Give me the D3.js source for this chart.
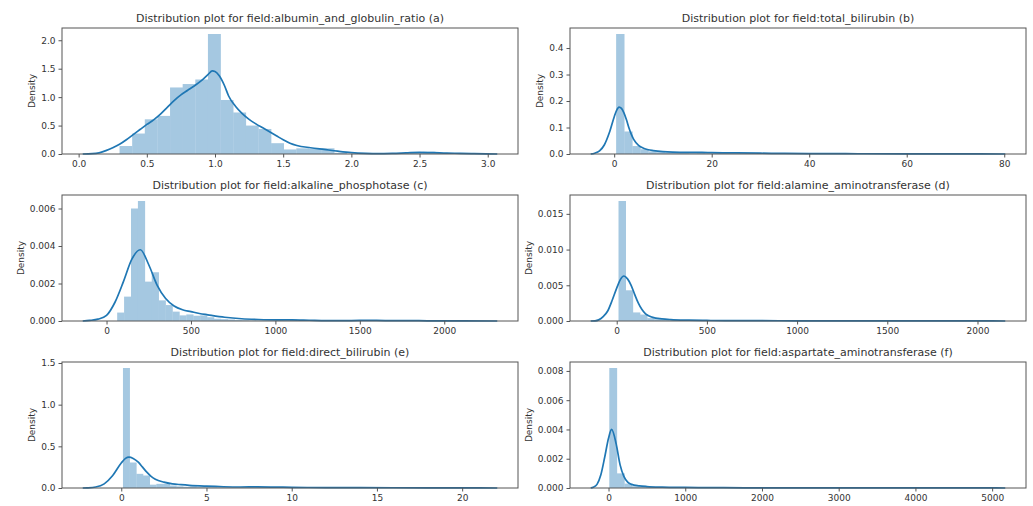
<!DOCTYPE html>
<html>
<head>
<meta charset="utf-8">
<script src="https://cdn.jsdelivr.net/npm/d3@7"></script>
<style>
  body { margin: 0; background: #fff; }
  svg text { font-family: "DejaVu Sans", sans-serif; fill: #333; }
</style>
</head>
<body>
<div id="chart"></div>
<script>
// ---- data ----
// (a) albumin_and_globulin_ratio
const albBins = [0.3, 2.5 / 27]; // first edge, bin width
const albHist = [0.14, 0.36, 0.61, 0.67, 1.17, 1.23, 1.31, 2.11, 0.95, 0.73, 0.5, 0.44, 0.19, 0.08,
  0.1, 0.09, 0.1, 0.02, 0, 0.02, 0.01, 0, 0.01, 0.02, 0.04, 0.02, 0.01];
const albKde = [[0.03, 0], [0.1, 0.005], [0.15, 0.02], [0.2, 0.06], [0.25, 0.11], [0.3, 0.17], [0.35, 0.25],
  [0.4, 0.34], [0.45, 0.43], [0.5, 0.52], [0.55, 0.6], [0.6, 0.7], [0.65, 0.82], [0.7, 0.94], [0.75, 1.04],
  [0.8, 1.12], [0.85, 1.2], [0.9, 1.29], [0.95, 1.4], [0.98, 1.46], [1.0, 1.45], [1.03, 1.38], [1.07, 1.2],
  [1.1, 1.02], [1.15, 0.84], [1.2, 0.71], [1.25, 0.61], [1.3, 0.53], [1.35, 0.46], [1.4, 0.39], [1.45, 0.32],
  [1.5, 0.25], [1.55, 0.19], [1.6, 0.15], [1.7, 0.11], [1.8, 0.08], [1.9, 0.05], [2.0, 0.025], [2.1, 0.012],
  [2.2, 0.008], [2.3, 0.01], [2.4, 0.02], [2.5, 0.03], [2.6, 0.025], [2.7, 0.016], [2.8, 0.012], [2.9, 0.006],
  [3.07, 0]];
const albXTicks = [0, 0.5, 1, 1.5, 2, 2.5, 3];
const albYTicks = [0, 0.5, 1, 1.5, 2];

// (b) total_bilirubin
const tbBins = [0.4, 74.6 / 45];
const tbHist = [0.453, 0.085, 0.03, 0.018, 0.01, 0.007, 0.005, 0.006, 0.004, 0.003, 0.004, 0.002, 0.003,
  0.002, 0.001, 0.001, 0.002, 0.001, 0, 0.001, 0.0005, 0, 0.0005, 0, 0, 0, 0, 0, 0.0005, 0, 0, 0, 0, 0, 0,
  0, 0, 0, 0, 0, 0, 0, 0, 0, 0.0005];
const tbKde = [[-4.81, 0], [-4, 0.003], [-3, 0.012], [-2, 0.035], [-1, 0.08], [0, 0.14], [0.5, 0.165],
  [1, 0.177], [1.5, 0.172], [2, 0.155], [2.5, 0.13], [3, 0.1], [3.5, 0.075], [4, 0.055], [5, 0.033],
  [6, 0.022], [7, 0.016], [8, 0.013], [10, 0.009], [12, 0.007], [15, 0.006], [18, 0.006], [20, 0.005],
  [25, 0.004], [30, 0.003], [35, 0.002], [40, 0.0015], [45, 0.0012], [50, 0.001], [60, 0.0006], [70, 0.0005],
  [75, 0.0005], [80.21, 0]];
const tbXTicks = [0, 20, 40, 60, 80];
const tbYTicks = [0, 0.1, 0.2, 0.3, 0.4];

// (c) alkaline_phosphotase
const alpBins = [63, 2047 / 50];
const alpHist = [0.00045, 0.0013, 0.006, 0.0064, 0.0021, 0.0026, 0.0011, 0.00085, 0.0005, 0.0003, 0.00035,
  0.00028, 0.0003, 0.0002, 0.00012, 0.0001, 0.00008, 0.00005, 0.00004, 0.00003, 0.00002, 0.00002, 0.00001,
  0.00003, 0.00002, 0.00007, 0, 0.00001, 0, 0, 0, 0.00001, 0, 0, 0.00002, 0.00001, 0, 0, 0, 0, 0, 0.00001,
  0, 0, 0, 0, 0, 0, 0, 0.00001];
const alpKde = [[-141, 0], [-100, 0.00003], [-50, 0.0001], [0, 0.0003], [50, 0.001], [100, 0.0021],
  [150, 0.0033], [200, 0.0038], [250, 0.003], [300, 0.0019], [350, 0.0012], [400, 0.0008], [450, 0.0006],
  [500, 0.0005], [550, 0.0004], [600, 0.00033], [700, 0.0002], [800, 0.00012], [900, 0.00008],
  [1000, 0.00006], [1100, 0.00006], [1200, 0.00004], [1300, 0.00002], [1400, 0.00002], [1500, 0.00003],
  [1600, 0.00003], [1700, 0.00002], [1800, 0.00002], [1900, 0.00001], [2000, 0.00001], [2110, 0.00001],
  [2314, 0]];
const alpXTicks = [0, 500, 1000, 1500, 2000];
const alpYTicks = [0, 0.002, 0.004, 0.006];

// (d) alamine_aminotransferase
const altBins = [10, 1990 / 50];
const altHist = [0.0168, 0.0043, 0.0012, 0.0009, 0.0004, 0.00025, 0.0002, 0.00012, 0.0001, 0.00006, 0.00005,
  0.00004, 0.00003, 0.00002, 0.00002, 0.00001, 0, 0.00001, 0.00001, 0, 0, 0.00001, 0, 0, 0, 0, 0, 0, 0, 0,
  0, 0, 0, 0, 0, 0, 0, 0, 0, 0, 0, 0, 0, 0, 0, 0, 0, 0, 0, 0.00001];
const altKde = [[-144, 0], [-120, 0.00003], [-100, 0.00016], [-75, 0.0006], [-50, 0.0014], [-25, 0.0029],
  [0, 0.0046], [20, 0.0058], [40, 0.0063], [60, 0.0059], [80, 0.005], [100, 0.0037], [120, 0.0025],
  [140, 0.0016], [160, 0.001], [180, 0.0007], [200, 0.0005], [250, 0.0003], [300, 0.0002], [400, 0.00012],
  [500, 0.00008], [600, 0.00005], [800, 0.00004], [1000, 0.00003], [1200, 0.00002], [1500, 0.00002],
  [1800, 0.00001], [2000, 0.00001], [2154, 0]];
const altXTicks = [0, 500, 1000, 1500, 2000];
const altYTicks = [0, 0.005, 0.01, 0.015];

// (e) direct_bilirubin
const dbBins = [0.1, 19.6 / 50];
const dbHist = [1.44, 0.306, 0.17, 0.15, 0.04, 0.05, 0.05, 0.03, 0.02, 0.015, 0.02, 0.01, 0.01, 0.008, 0.005,
  0.005, 0.004, 0.005, 0.003, 0.003, 0.005, 0.008, 0.005, 0.003, 0.002, 0.002, 0.001, 0.002, 0.001, 0.001,
  0.001, 0.001, 0, 0.001, 0.001, 0, 0.001, 0, 0, 0.001, 0, 0.001, 0, 0, 0, 0, 0, 0, 0, 0.001];
const dbKde = [[-2.26, 0], [-2, 0.002], [-1.5, 0.012], [-1, 0.05], [-0.5, 0.15], [0, 0.3], [0.25, 0.355],
  [0.45, 0.37], [0.7, 0.355], [1, 0.31], [1.25, 0.25], [1.5, 0.19], [1.75, 0.14], [2, 0.105], [2.5, 0.07],
  [3, 0.05], [3.5, 0.04], [4, 0.032], [5, 0.022], [6, 0.015], [7, 0.012], [8, 0.013], [9, 0.011], [10, 0.008],
  [11, 0.006], [12, 0.005], [14, 0.004], [16, 0.003], [18, 0.002], [20, 0.001], [22.06, 0]];
const dbXTicks = [0, 5, 10, 15, 20];
const dbYTicks = [0, 0.5, 1, 1.5];

// (f) aspartate_aminotransferase
const astBins = [10, 4919 / 50];
const astHist = [0.0082, 0.001, 0.0003, 0.00012, 0.00007, 0.00005, 0.00003, 0.00003, 0.00002, 0.00001,
  0.00002, 0.00001, 0.00001, 0, 0.00001, 0, 0, 0, 0, 0, 0, 0, 0, 0, 0, 0, 0, 0, 0, 0, 0, 0, 0, 0, 0, 0, 0,
  0, 0, 0, 0, 0, 0, 0, 0, 0, 0, 0, 0, 0.00001];
const astKde = [[-232, 0], [-200, 0.00005], [-150, 0.00025], [-100, 0.0009], [-50, 0.0021], [0, 0.0034],
  [40, 0.004], [100, 0.003], [150, 0.0016], [200, 0.0008], [250, 0.0004], [300, 0.00025], [400, 0.00015],
  [500, 0.0001], [700, 0.00006], [1000, 0.00004], [1500, 0.00002], [2000, 0.00001], [3000, 0.000005],
  [4000, 0.000004], [4929, 0.000003], [5171, 0]];
const astXTicks = [0, 1000, 2000, 3000, 4000, 5000];
const astYTicks = [0, 0.002, 0.004, 0.006, 0.008];

const panels = [
  { title: 'albumin_and_globulin_ratio (a)', bins: albBins, hist: albHist, kde: albKde, xt: albXTicks, yt: albYTicks, xf: '.1f', yf: '.1f' },
  { title: 'total_bilirubin (b)', bins: tbBins, hist: tbHist, kde: tbKde, xt: tbXTicks, yt: tbYTicks, xf: 'd', yf: '.1f' },
  { title: 'alkaline_phosphotase (c)', bins: alpBins, hist: alpHist, kde: alpKde, xt: alpXTicks, yt: alpYTicks, xf: 'd', yf: '.3f' },
  { title: 'alamine_aminotransferase (d)', bins: altBins, hist: altHist, kde: altKde, xt: altXTicks, yt: altYTicks, xf: 'd', yf: '.3f' },
  { title: 'direct_bilirubin (e)', bins: dbBins, hist: dbHist, kde: dbKde, xt: dbXTicks, yt: dbYTicks, xf: 'd', yf: '.1f' },
  { title: 'aspartate_aminotransferase (f)', bins: astBins, hist: astHist, kde: astKde, xt: astXTicks, yt: astYTicks, xf: 'd', yf: '.3f' },
];

// ---- layout ----
const W = 1033, H = 506;
const colX = [62, 570];
const rowY = [28, 195, 362];
const pw = 456, ph = 126;
const barColor = '#a5c8e1';
const lineColor = '#1f77b4';
const spine = '#555';

const svg = d3.select('#chart').append('svg')
  .attr('width', W)
  .attr('height', H);

panels.forEach((p, i) => {
  const left = colX[i % 2];
  const top = rowY[Math.floor(i / 2)];
  const g = svg.append('g').attr('transform', `translate(${left},${top})`);

  // matplotlib style 5% margin around the kde support
  const [lo, hi] = d3.extent(p.kde, d => d[0]);
  const pad = (hi - lo) * 0.05;
  const x = d3.scaleLinear().domain([lo - pad, hi + pad]).range([0, pw]);
  const y = d3.scaleLinear().domain([0, d3.max(p.hist) * 1.05]).range([ph, 0]);

  const [start, bw] = p.bins;
  g.selectAll('.bar')
    .data(p.hist)
    .enter().append('rect')
    .attr('class', 'bar')
    .attr('x', (d, j) => x(start + j * bw))
    .attr('width', (d, j) => x(start + (j + 1) * bw) - x(start + j * bw) + 0.3)
    .attr('y', d => y(d))
    .attr('height', d => ph - y(d))
    .style('fill', barColor);

  const line = d3.line()
    .x(d => x(d[0]))
    .y(d => y(d[1]))
    .curve(d3.curveMonotoneX);

  g.append('path')
    .datum(p.kde)
    .attr('d', line)
    .style('fill', 'none')
    .style('stroke', lineColor)
    .style('stroke-width', 1.7);

  // axes
  const xAxis = g.append('g')
    .attr('transform', `translate(0,${ph})`)
    .call(d3.axisBottom(x).tickValues(p.xt).tickFormat(d3.format(p.xf)).tickSize(3.5).tickPadding(3));
  const yAxis = g.append('g')
    .call(d3.axisLeft(y).tickValues(p.yt).tickFormat(d3.format(p.yf)).tickSize(3.5).tickPadding(3));
  [xAxis, yAxis].forEach(a => {
    a.select('.domain').remove();
    a.selectAll('line').style('stroke', spine);
    a.selectAll('text').style('font-size', '9px').style('font-family', '"DejaVu Sans", sans-serif').style('fill', '#333');
  });

  g.append('rect')
    .attr('x', 0)
    .attr('y', 0)
    .attr('width', pw)
    .attr('height', ph)
    .style('fill', 'none')
    .style('stroke', spine)
    .style('stroke-width', 1);

  // y label sits just clear of the widest tick label, like matplotlib
  let labelW = 0;
  yAxis.selectAll('text').each(function () {
    labelW = Math.max(labelW, this.getBBox().width);
  });
  const labelX = -(6.5 + labelW + 9);

  g.append('text')
    .attr('transform', `translate(${labelX},${ph / 2}) rotate(-90)`)
    .attr('text-anchor', 'middle')
    .attr('dy', '0.35em')
    .style('font-size', '9px')
    .text('Density');

  g.append('text')
    .attr('x', pw / 2)
    .attr('y', -6)
    .attr('text-anchor', 'middle')
    .style('font-size', '11px')
    .text('Distribution plot for field:' + p.title);
});
</script>
</body>
</html>
